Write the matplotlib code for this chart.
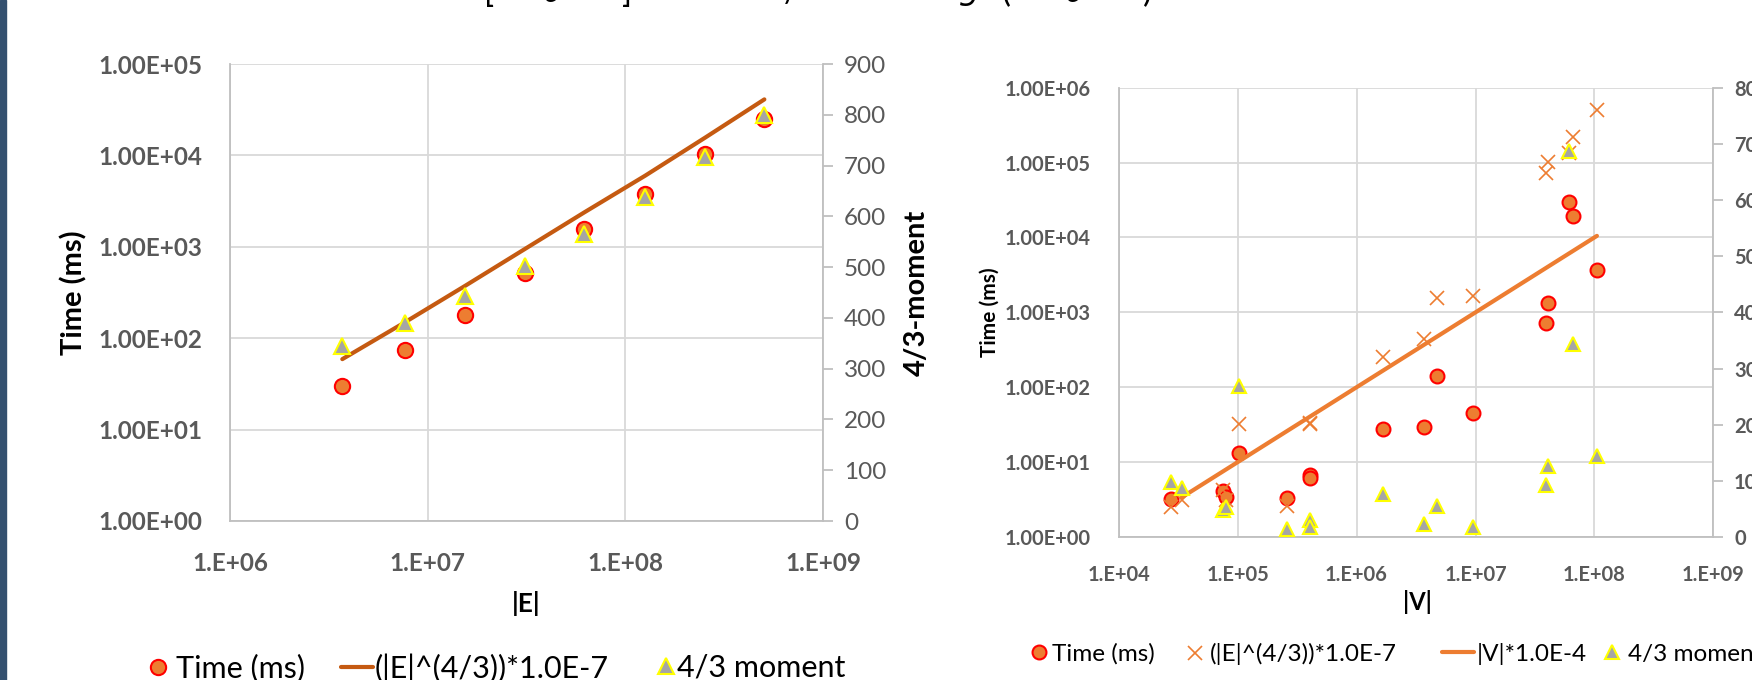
import matplotlib
matplotlib.use('Agg')
import matplotlib.pyplot as plt
from matplotlib.patches import Rectangle
from matplotlib.ticker import FuncFormatter, NullLocator

plt.rcParams['font.family'] = ['Lato', 'DejaVu Sans']

# left chart: |E| vs time
E_edges = [3.7e6, 7.7e6, 1.55e7, 3.1e7, 6.2e7, 1.26e8, 2.54e8, 5.05e8]
E_time = [30, 75, 180, 513, 1566, 3780, 10300, 25200]
E_fit = [59, 150, 375, 945, 2380, 6000, 15700, 41000]
E_moment = [344, 390, 443, 502, 566, 638, 716, 799]

# right chart: |V| vs time
V_verts = [2.73e4, 3.38e4, 7.5e4, 7.98e4, 1.03e5, 2.59e5, 4.02e5, 4.05e5, 1.68e6,
           3.72e6, 4.76e6, 9.57e6, 3.89e7, 4.07e7, 6.08e7, 6.57e7, 1.05e8]
V_time = [3.19, float('nan'), 4.16, 3.4, 13.1, 3.29, 6.74, 6.2, 27.8,
          29.8, 142, 45.1, 719, 1350, 29800, 19200, 3630]
V_efit = [2.5, 3.1, 4.2, 3.1, 32.4, 2.6, 33.1, 32.5, 252,
          444, 1567, 1667, 72800, 103000, 135000, 218000, 500000]
V_moment = [9.8, 8.7, 4.8, 5.4, 26.8, 1.4, 3.0, 1.8, 7.65,
            2.3, 5.5, 1.84, 9.26, 12.6, 68.7, 34.4, 14.5]
V_line_x = [3.38e4, 7.5e4, 1.03e5, 4.02e5, 1.68e6, 3.72e6, 9.57e6, 4.07e7, 1.05e8]
V_line_y = [3.38, 7.5, 10.3, 40.2, 168, 372, 957, 4070, 10500]

W, H = 1752, 680
fig = plt.figure(figsize=(W / 100, H / 100), dpi=100)
fig.patches.append(Rectangle((0, 0), 6 / W, 1, transform=fig.transFigure,
                             color='#34506F', zorder=0))

# cropped equation fragments at the top edge
for txt, px in [('[', 489), (r'$\theta$', 553), (']', 627), ('/', 791),
                (r'$g$', 969), ('(', 1006), (r'$\theta$', 1075), (')', 1147)]:
    fig.text(px / W, 1 - 8 / H, txt, fontsize=24, ha='center', va='bottom', color='black')

grey = '#595959'
grid_c = '#D9D9D9'
axis_c = '#BFBFBF'


def sci2(v, pos):
    return '%.2E' % v


def sci0(v, pos):
    return '%#.0E' % v


def style_log_axes(ax, xticks, yticks, fs):
    ax.set_xscale('log')
    ax.set_yscale('log')
    ax.set_xlim(xticks[0], xticks[-1])
    ax.set_ylim(yticks[0], yticks[-1])
    ax.set_xticks(xticks)
    ax.set_yticks(yticks)
    ax.xaxis.set_minor_locator(NullLocator())
    ax.yaxis.set_minor_locator(NullLocator())
    ax.xaxis.set_major_formatter(FuncFormatter(sci0))
    ax.yaxis.set_major_formatter(FuncFormatter(sci2))
    ax.grid(True, color=grid_c, lw=1.3)
    ax.set_axisbelow(True)
    ax.tick_params(length=0, labelsize=fs, labelcolor=grey)
    for lab in ax.get_xticklabels() + ax.get_yticklabels():
        lab.set_fontweight('bold')
    for s in ['top', 'right']:
        ax.spines[s].set_visible(False)
    for s in ['left', 'bottom']:
        ax.spines[s].set_color(axis_c)
        ax.spines[s].set_linewidth(1.3)


def legend_item(handle, x_start, y, fs, hlen, pad):
    # one legend entry per call, so each entry sits where the original puts it
    fig.legend([handle], [handle.get_label()], loc='center left',
               bbox_to_anchor=(x_start / W, 1 - y / H), frameon=False, fontsize=fs,
               handlelength=hlen, handletextpad=pad, borderpad=0, borderaxespad=0)


# ---- left chart ----
ax1 = fig.add_axes([230 / W, 1 - 521 / H, 593 / W, 457 / H])
style_log_axes(ax1, [1e6, 1e7, 1e8, 1e9], [1, 10, 100, 1e3, 1e4, 1e5], 17.5)
ax1.tick_params(axis='y', pad=20)
ax1.tick_params(axis='x', pad=22)
h1, = ax1.plot(E_edges, E_time, 'o', ms=11, mfc='#ED7D31', mec='#FF0000', mew=1.5,
               label='Time (ms)', zorder=3)
h2, = ax1.plot(E_edges, E_fit, '-', color='#C55A11', lw=3, solid_capstyle='round',
               label='(|E|^(4/3))*1.0E-7', zorder=4)
ax1.set_xlabel('|E|', fontsize=19, fontweight='bold')
ax1.xaxis.set_label_coords(0.5, -0.153)
ax1.set_ylabel('Time (ms)', fontsize=21, fontweight='bold')
ax1.yaxis.set_label_coords(-0.241, 0.5)

ax1r = ax1.twinx()
ax1r.set_ylim(0, 900)
ax1r.set_yticks(range(0, 1000, 100))
ax1r.tick_params(axis='y', direction='out', length=7, width=1.3, color=axis_c,
                 labelsize=17.5, labelcolor=grey, pad=8)
for s in ['top', 'left', 'bottom']:
    ax1r.spines[s].set_visible(False)
ax1r.spines['right'].set_color(axis_c)
ax1r.spines['right'].set_linewidth(1.3)
h3, = ax1r.plot(E_edges, E_moment, '^', ms=11, mfc='#A5A5A5', mec='#FFFF00', mew=1.5,
                label='4/3 moment', zorder=5)
ax1r.set_ylabel('4/3-moment', fontsize=21, fontweight='bold')
ax1r.yaxis.set_label_coords(1.136, 0.5)

legend_item(h1, 149, 668, 22, 0.6, 0.3)
legend_item(h2, 341, 668, 22, 1.05, 0.06)
legend_item(h3, 658, 668, 22, 0.5, 0.12)

# ---- right chart ----
ax2 = fig.add_axes([1118.8 / W, 1 - 537 / H, 594.5 / W, 449.3 / H])
style_log_axes(ax2, [1e4, 1e5, 1e6, 1e7, 1e8, 1e9], [1, 10, 100, 1e3, 1e4, 1e5, 1e6], 14.5)
ax2.tick_params(axis='y', pad=20)
ax2.tick_params(axis='x', pad=20)
g1, = ax2.plot(V_verts, V_time, 'o', ms=10, mfc='#ED7D31', mec='#FF0000', mew=1.5,
               label='Time (ms)', zorder=3)
g2, = ax2.plot(V_verts, V_efit, 'x', ms=10, color='#ED7D31', mew=1.2,
               label='(|E|^(4/3))*1.0E-7', zorder=3)
g3, = ax2.plot(V_line_x, V_line_y, '-', color='#ED7D31', lw=3, solid_capstyle='round',
               label='|V|*1.0E-4', zorder=4)
ax2.set_xlabel('|V|', fontsize=17, fontweight='bold')
ax2.xaxis.set_label_coords(0.502, -0.118)
ax2.set_ylabel('Time (ms)', fontsize=15, fontweight='bold')
ax2.yaxis.set_label_coords(-0.2, 0.5)

ax2r = ax2.twinx()
ax2r.set_ylim(0, 80)
ax2r.set_yticks(range(0, 90, 10))
ax2r.tick_params(axis='y', direction='out', length=7, width=1.3, color=axis_c,
                 labelsize=14.5, labelcolor=grey, pad=8)
for lab in ax2r.get_yticklabels():
    lab.set_fontweight('bold')
for s in ['top', 'left', 'bottom']:
    ax2r.spines[s].set_visible(False)
ax2r.spines['right'].set_color(axis_c)
ax2r.spines['right'].set_linewidth(1.3)
g4, = ax2r.plot(V_verts, V_moment, '^', ms=10, mfc='#A5A5A5', mec='#FFFF00', mew=1.5,
                label='4/3 moment', zorder=5)

legend_item(g1, 1033, 654, 17.5, 0.5, 0.29)
legend_item(g2, 1189, 654, 17.5, 0.5, 0.37)
legend_item(g3, 1442, 654, 17.5, 1.3, 0.12)
legend_item(g4, 1606, 654, 17.5, 0.5, 0.4)

fig.savefig('out.png', dpi=100)
